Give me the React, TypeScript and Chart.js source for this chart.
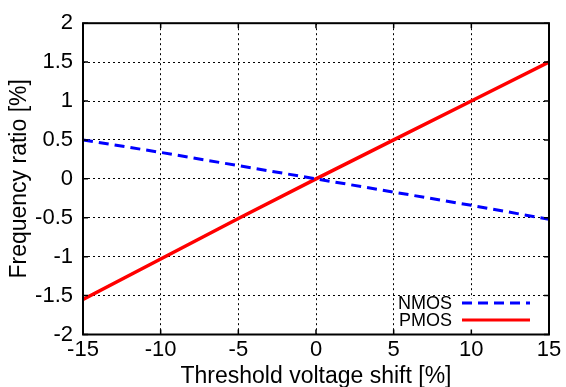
import React, { useEffect, useRef } from 'react';
import { Chart, registerables } from 'chart.js';

Chart.register(...registerables);

// ---- data ----
const xValues = [-15, -10, -5, 0, 5, 10, 15];
const nmosValues = [0.5, 0.34, 0.17, 0, -0.17, -0.34, -0.52];
const pmosValues = [-1.55, -1.03, -0.51, 0, 0.5, 1.0, 1.5];
const xTicks = [-15, -10, -5, 0, 5, 10, 15];
const yTicks = [-2, -1.5, -1, -0.5, 0, 0.5, 1, 1.5, 2];
const seriesLabels = ['NMOS', 'PMOS'];
const seriesColors = ['#0000ff', '#ff0000'];
const xTitle = 'Threshold voltage shift [%]';
const yTitle = 'Frequency ratio [%]';

const FONT = "'Liberation Sans', Arial, sans-serif";

const framePlugin = {
  id: 'frame',
  afterDatasetsDraw(chart: any) {
    const { ctx, chartArea: a, scales } = chart;
    const xs = scales.x;
    const ys = scales.y;
    ctx.save();
    // legend box
    const boxW = 154;
    const boxH = 36;
    const bx = a.right - boxW;
    const by = a.bottom - boxH;
    ctx.fillStyle = '#ffffff';
    ctx.fillRect(bx, by, boxW, boxH);
    ctx.font = `18px ${FONT}`;
    ctx.textAlign = 'right';
    ctx.textBaseline = 'middle';
    const rows = [a.bottom - 31.5, a.bottom - 14.5];
    seriesLabels.forEach((lab, i) => {
      ctx.fillStyle = '#000';
      ctx.fillText(lab, a.right - 97, rows[i] + 1);
      ctx.beginPath();
      ctx.strokeStyle = seriesColors[i];
      ctx.lineWidth = 3;
      ctx.setLineDash(i === 0 ? [10, 6] : []);
      ctx.moveTo(a.right - 87, rows[i]);
      ctx.lineTo(a.right - 19, rows[i]);
      ctx.stroke();
    });
    ctx.setLineDash([]);
    // inner tick marks
    ctx.strokeStyle = '#000';
    ctx.lineWidth = 1.5;
    const tl = 5;
    ctx.beginPath();
    xTicks.forEach((v) => {
      const px = xs.getPixelForValue(v);
      ctx.moveTo(px, a.bottom);
      ctx.lineTo(px, a.bottom - tl);
      ctx.moveTo(px, a.top);
      ctx.lineTo(px, a.top + tl);
    });
    yTicks.forEach((v) => {
      const py = ys.getPixelForValue(v);
      ctx.moveTo(a.left, py);
      ctx.lineTo(a.left + tl, py);
      ctx.moveTo(a.right, py);
      ctx.lineTo(a.right - tl, py);
    });
    ctx.stroke();
    // frame
    ctx.lineWidth = 2;
    ctx.strokeRect(a.left, a.top, a.right - a.left, a.bottom - a.top);
    ctx.restore();
  },
};

export default function App() {
  const canvasRef = useRef<HTMLCanvasElement | null>(null);

  useEffect(() => {
    if (!canvasRef.current) return;
    const chart = new Chart(canvasRef.current, {
      type: 'line',
      data: {
        datasets: [
          {
            label: seriesLabels[0],
            data: xValues.map((x, i) => ({ x, y: nmosValues[i] })),
            borderColor: seriesColors[0],
            borderWidth: 3,
            borderDash: [10, 6],
            pointRadius: 0,
            fill: false,
            tension: 0,
          },
          {
            label: seriesLabels[1],
            data: xValues.map((x, i) => ({ x, y: pmosValues[i] })),
            borderColor: seriesColors[1],
            borderWidth: 3.5,
            pointRadius: 0,
            fill: false,
            tension: 0,
          },
        ],
      },
      options: {
        animation: false,
        responsive: true,
        maintainAspectRatio: false,
        layout: { padding: { top: 19, right: 17, left: 0, bottom: 0 } },
        plugins: {
          legend: { display: false },
          tooltip: { enabled: false },
        },
        scales: {
          x: {
            type: 'linear',
            min: -15,
            max: 15,
            afterFit: (s: any) => {
              s.height = 52.5;
            },
            afterBuildTicks: (s: any) => {
              s.ticks = xTicks.map((v) => ({ value: v }));
            },
            ticks: {
              color: '#000',
              font: { family: FONT, size: 22 },
              padding: 2,
              maxRotation: 0,
              callback: (v: any) => String(v),
            },
            grid: {
              color: '#000',
              lineWidth: 1,
              drawTicks: false,
            },
            border: { display: false, dash: [2, 3] },
            title: {
              display: true,
              text: xTitle,
              color: '#000',
              font: { family: FONT, size: 23, lineHeight: 1 },
              padding: { top: 0, bottom: -1 },
            },
          },
          y: {
            type: 'linear',
            min: -2,
            max: 2,
            afterFit: (s: any) => {
              s.width = 83;
            },
            afterBuildTicks: (s: any) => {
              s.ticks = yTicks.map((v) => ({ value: v }));
            },
            ticks: {
              color: '#000',
              font: { family: FONT, size: 22 },
              padding: 10,
              callback: (v: any) => String(v),
            },
            grid: {
              color: '#000',
              lineWidth: 1,
              drawTicks: false,
            },
            border: { display: false, dash: [2, 3] },
            title: {
              display: true,
              text: yTitle,
              color: '#000',
              font: { family: FONT, size: 23, lineHeight: 1 },
              padding: { top: 8, bottom: 0 },
            },
          },
        },
      },
      plugins: [framePlugin],
    } as any);
    return () => chart.destroy();
  }, []);

  return (
    <div style={{ position: 'absolute', left: 0, top: 0, width: 566, height: 387, background: '#fff' }}>
      <canvas ref={canvasRef} />
    </div>
  );
}
